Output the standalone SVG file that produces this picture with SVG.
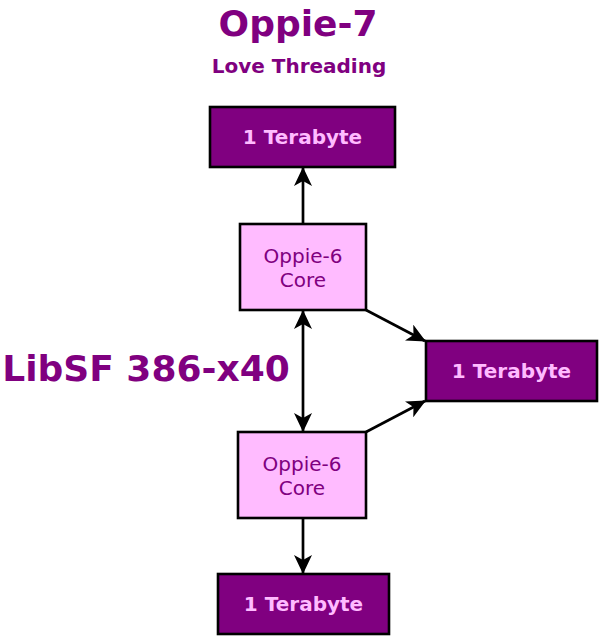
<svg xmlns="http://www.w3.org/2000/svg" width="604" height="640" viewBox="0 0 604 640">
<defs>
<style>
.tb rect{fill:#800080;stroke:#000;stroke-width:2.6}
.tb text{fill:#ffbbff;font-family:"DejaVu Sans",sans-serif;font-weight:bold;font-size:20px;text-anchor:middle}
.core rect{fill:#ffbbff;stroke:#000;stroke-width:2.6}
.core text{fill:#800080;font-family:"DejaVu Sans",sans-serif;font-size:20px;text-anchor:middle}
.title{fill:#800080;font-family:"DejaVu Sans",sans-serif;font-weight:bold;text-anchor:middle}
#edges line{stroke:#000;stroke-width:2.7}
</style>
<marker id="ah" viewBox="0 0 19 18" refX="18" refY="9" markerWidth="19" markerHeight="18" markerUnits="userSpaceOnUse" orient="auto-start-reverse">
<path d="M0,0 L19,9 L0,18 L5,9 z" fill="#000"/>
</marker>
</defs>
<rect width="604" height="640" fill="#fff"/>
<text class="title" x="298" y="36" font-size="36">Oppie-7</text>
<text class="title" x="299" y="73" font-size="20">Love Threading</text>
<text class="title" x="146" y="381" font-size="36">LibSF 386-x40</text>
<g id="edges">
<line x1="303" y1="224" x2="303" y2="168" marker-end="url(#ah)"/>
<line x1="303" y1="311" x2="303" y2="431" marker-start="url(#ah)" marker-end="url(#ah)"/>
<line x1="366" y1="310" x2="425" y2="341" marker-end="url(#ah)"/>
<line x1="366" y1="432" x2="425" y2="401" marker-end="url(#ah)"/>
<line x1="303" y1="518" x2="303" y2="573" marker-end="url(#ah)"/>
</g>
<g id="tb1" class="tb"><rect x="210" y="107" width="185" height="60"/><text x="302.5" y="144">1 Terabyte</text></g>
<g id="core1" class="core"><rect x="240" y="224" width="126" height="86"/><text x="303" y="263">Oppie-6</text><text x="303" y="287">Core</text></g>
<g id="tb2" class="tb"><rect x="426" y="341" width="171" height="60"/><text x="511.5" y="378">1 Terabyte</text></g>
<g id="core2" class="core"><rect x="238" y="432" width="128" height="86"/><text x="302" y="471">Oppie-6</text><text x="302" y="495">Core</text></g>
<g id="tb3" class="tb"><rect x="218" y="574" width="171" height="60"/><text x="303.5" y="611">1 Terabyte</text></g>
</svg>
